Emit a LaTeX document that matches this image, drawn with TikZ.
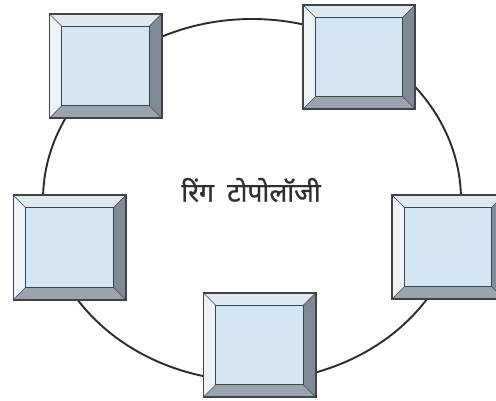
\documentclass[tikz,border=0pt]{standalone}
\usepackage{fontspec}
\newfontfamily\deva[Script=Devanagari, FakeBold=1.1]{Noto Sans}
\usetikzlibrary{shapes.geometric}
\definecolor{edgecol}{HTML}{3E444B}
\definecolor{faceblue}{HTML}{D4E5F4}
\definecolor{bevtopc}{HTML}{E0E8F0}
\definecolor{bevleftc}{HTML}{EEF3F8}
\definecolor{bevrightc}{HTML}{808A94}
\definecolor{bevbotc}{HTML}{9BA3AD}
\definecolor{ringcol}{HTML}{2B2B2B}
\definecolor{textcol}{HTML}{303030}
\tikzset{
  boxnode/.style={rectangle, draw=none, fill=faceblue, minimum width=112pt, minimum height=104pt, inner sep=0pt},
  innerline/.style={draw=edgecol, line width=1.1pt},
  diagline/.style={draw=edgecol, line width=0.7pt},
  outerline/.style={draw=edgecol, line width=1.6pt},
  ringstyle/.style={ellipse, draw=ringcol, line width=1.9pt, inner sep=0pt, minimum width=418pt, minimum height=362pt},
  labelstyle/.style={text=textcol, font=\deva\fontsize{26.5}{30}\selectfont, inner sep=0pt}
}
\newcommand\mybevbox[3]{%
 \node[boxnode] (#1) at (#2,#3) {};
 \path (#1.north west) ++(12.5,12.5) coordinate (#1-inw);
 \path (#1.north east) ++(-12.5,12.5) coordinate (#1-ine);
 \path (#1.south east) ++(-12.5,-12.5) coordinate (#1-ise);
 \path (#1.south west) ++(12.5,-12.5) coordinate (#1-isw);
 \fill[bevtopc] (#1.north west) -- (#1.north east) -- (#1-ine) -- (#1-inw) -- cycle;
 \fill[bevrightc] (#1.north east) -- (#1.south east) -- (#1-ise) -- (#1-ine) -- cycle;
 \fill[bevbotc] (#1.south east) -- (#1.south west) -- (#1-isw) -- (#1-ise) -- cycle;
 \fill[bevleftc] (#1.south west) -- (#1.north west) -- (#1-inw) -- (#1-isw) -- cycle;
 \draw[innerline] (#1-inw) -- (#1-ine) -- (#1-ise) -- (#1-isw) -- cycle;
 \draw[diagline] (#1.north west) -- (#1-inw) (#1.north east) -- (#1-ine) (#1.south east) -- (#1-ise) (#1.south west) -- (#1-isw);
 \draw[outerline] (#1.north west) rectangle (#1.south east);
}
\begin{document}
\begin{tikzpicture}[x=1pt,y=-1pt]
\useasboundingbox (0,0) rectangle (496,401);
\clip (0,0) rectangle (496,401);
\fill[white] (0,0) rectangle (496,401);
\node[ringstyle] (ring) at (252,200) {};
\mybevbox{b1}{105.5}{66}
\mybevbox{b2}{359}{57}
\mybevbox{b3}{69.5}{247.5}
\mybevbox{b4}{448}{247}
\mybevbox{b5}{259.5}{345}
\node[labelstyle] (label) at (251,190) {रिंग\hspace{0.5em}टोपोलॉजी};
\end{tikzpicture}
\end{document}
